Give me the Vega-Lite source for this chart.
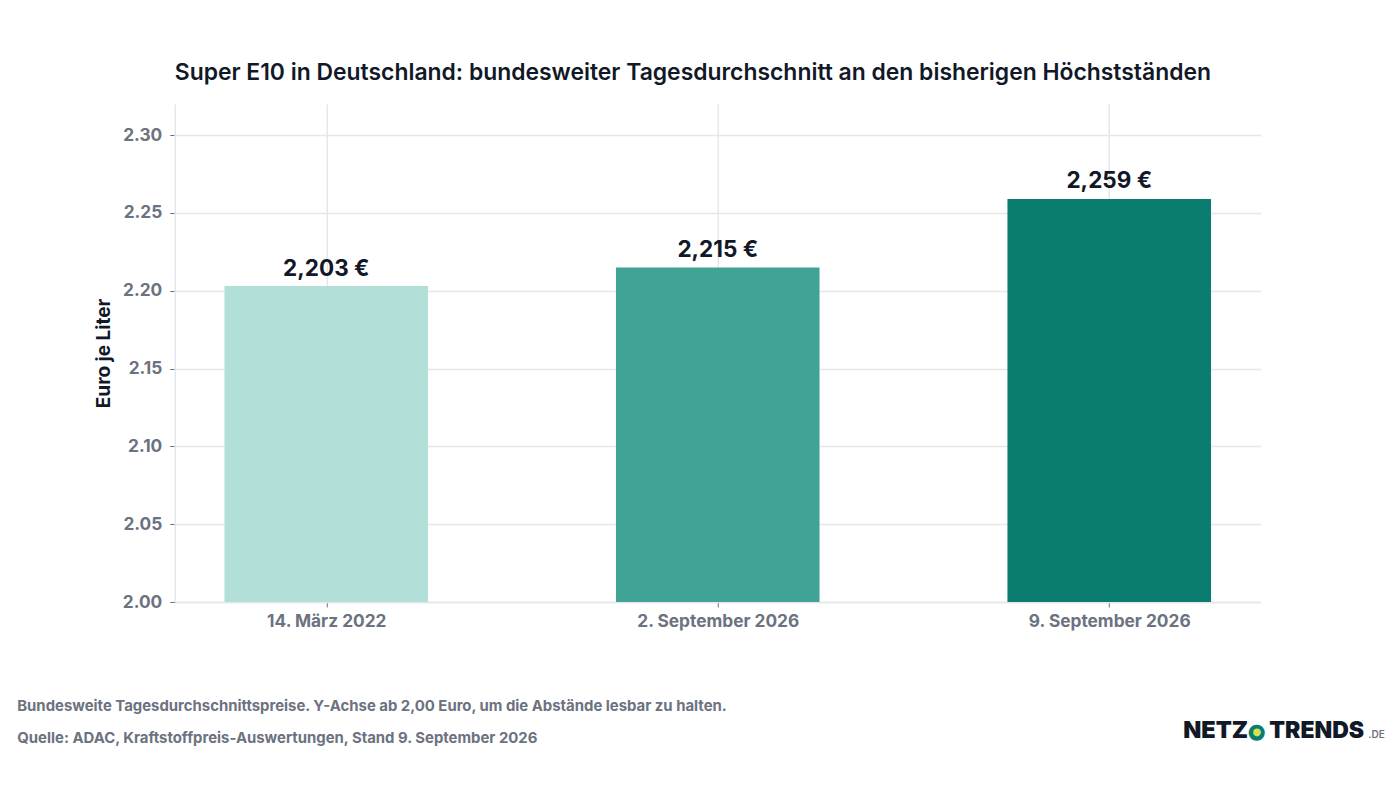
{"$schema":"https://vega.github.io/schema/vega-lite/v6.json","width":1086,"height":498,"autosize":{"type":"none"},"padding":{"left":174.75,"top":104,"right":139.25,"bottom":186},"background":"#ffffff","config":{"view":{"stroke":null},"font":"Inter"},"title":{"text":"Super E10 in Deutschland: bundesweiter Tagesdurchschnitt an den bisherigen Höchstständen","anchor":"start","frame":"group","font":"Inter","fontSize":22.9,"fontWeight":600,"color":"#111827","offset":19},"resolve":{"scale":{"y":"independent"},"axis":{"y":"independent"}},"layer":[{"data":{"values":[{"datum":"14. März 2022","wert":2.203,"label":"2,203 €"},{"datum":"2. September 2026","wert":2.215,"label":"2,215 €"},{"datum":"9. September 2026","wert":2.259,"label":"2,259 €"}]},"encoding":{"x":{"field":"datum","type":"nominal","sort":null,"scale":{"paddingInner":0.48,"paddingOuter":0.127},"axis":{"labelAngle":0,"labelFont":"Inter","labelFontSize":17.3,"labelFontWeight":700,"labelColor":"#6b7280","labelPadding":5,"grid":true,"gridColor":"#e5e7eb","gridWidth":1.5,"domainColor":"#e5e7eb","domainWidth":1.5,"ticks":true,"tickColor":"#6b7280","tickSize":5,"tickOffset":0,"title":["Bundesweite Tagesdurchschnittspreise. Y-Achse ab 2,00 Euro, um die Abstände lesbar zu halten.","Quelle: ADAC, Kraftstoffpreis-Auswertungen, Stand 9. September 2026"],"titleFont":"Inter","titleFontSize":14.9,"titleFontWeight":700,"titleColor":"#6b7280","titleLineHeight":32,"titleAlign":"left","titleAnchor":"start","titleX":-158,"titleY":96}},"y":{"field":"wert","type":"quantitative","scale":{"domain":[2,2.32],"nice":false,"zero":false},"axis":{"values":[2,2.05,2.1,2.15,2.2,2.25,2.3],"format":".2f","labelFont":"Inter","labelFontSize":17.3,"labelFontWeight":700,"labelColor":"#6b7280","labelPadding":8,"grid":true,"gridColor":"#e5e7eb","gridWidth":1.5,"domainColor":"#e5e7eb","domainWidth":1.5,"ticks":true,"tickColor":"#6b7280","tickSize":5,"title":"Euro je Liter","titleFont":"Inter","titleFontSize":19,"titleFontWeight":700,"titleColor":"#111827","titleX":-61,"titleY":249}}},"layer":[{"mark":{"type":"bar"},"encoding":{"y2":{"datum":2},"color":{"field":"datum","type":"nominal","sort":null,"legend":null,"scale":{"range":["#b2dfd8","#41a396","#0a7d70"]}}}},{"mark":{"type":"text","dy":-17.5,"font":"Inter","fontSize":22.5,"fontWeight":700,"color":"#111827"},"encoding":{"text":{"field":"label"}}}]},{"mark":{"type":"point","opacity":0},"encoding":{"y":{"datum":0,"axis":{"orient":"right","labels":false,"ticks":false,"domain":false,"grid":false,"title":"NETZ","titleAngle":0,"titleFont":"Inter","titleFontSize":23.5,"titleFontWeight":900,"titleColor":"#111827","titleAlign":"left","titleBaseline":"alphabetic","titleX":-78,"titleY":633}}}},{"mark":{"type":"point","opacity":0},"encoding":{"y":{"datum":0,"axis":{"orient":"right","labels":false,"ticks":false,"domain":false,"grid":false,"title":"TRENDS","titleAngle":0,"titleFont":"Inter","titleFontSize":23,"titleFontWeight":900,"titleColor":"#111827","titleAlign":"left","titleBaseline":"alphabetic","titleX":8,"titleY":633}}}},{"mark":{"type":"point","opacity":0},"encoding":{"y":{"datum":0,"axis":{"orient":"right","labels":false,"ticks":false,"domain":false,"grid":false,"title":".DE","titleAngle":0,"titleFont":"Inter","titleFontSize":10,"titleFontWeight":600,"titleColor":"#6b7280","titleAlign":"left","titleBaseline":"alphabetic","titleX":107,"titleY":633}}}},{"mark":{"type":"point","opacity":0},"encoding":{"y":{"datum":0,"axis":{"orient":"right","labels":false,"ticks":false,"domain":false,"grid":false,"title":"●","titleAngle":0,"titleFont":"DejaVu Sans","titleFontSize":21,"titleColor":"#0a7d70","titleAlign":"center","titleBaseline":"middle","titleX":-4.5,"titleY":627}}}},{"mark":{"type":"point","opacity":0},"encoding":{"y":{"datum":0,"axis":{"orient":"right","labels":false,"ticks":false,"domain":false,"grid":false,"title":"●","titleAngle":0,"titleFont":"DejaVu Sans","titleFontSize":10,"titleColor":"#d4e157","titleAlign":"center","titleBaseline":"middle","titleX":-4.5,"titleY":627}}}}]}
